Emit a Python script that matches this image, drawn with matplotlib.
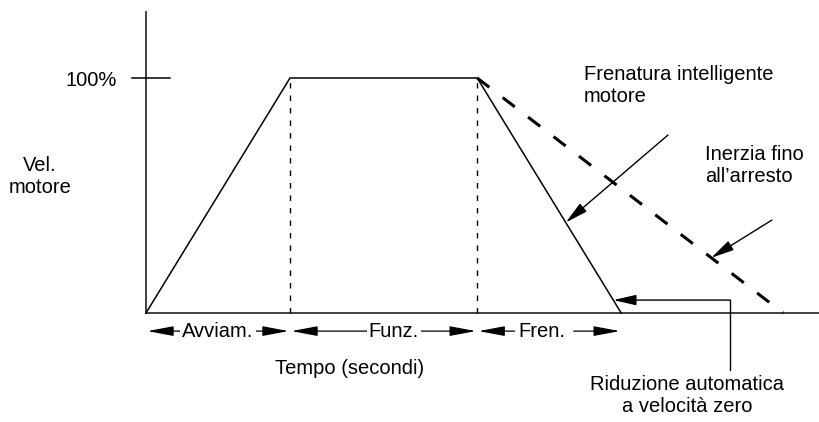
import numpy as np
import matplotlib
matplotlib.use("Agg")
import matplotlib.pyplot as plt

# speed profile (time in s, speed in %)
t_profile = [0, 2.0, 4.6, 6.6]
v_profile = [0, 100, 100, 0]
# coasting to stop (dashed)
t_coast = [4.6, 8.85]
v_coast = [100, 0]
phase_labels = ["Avviam.", "Funz.", "Fren."]
phase_edges = [0, 2.0, 4.6, 6.6]

plt.rcParams['font.family'] = ['Liberation Sans Narrow', 'Liberation Sans', 'DejaVu Sans']
FS = 14.5

fig = plt.figure(figsize=(8.19, 4.22), dpi=100)
ax = fig.add_axes([0, 0, 1, 1])
# map so that the drawing sits where it sits in the reference
ax.set_xlim(-146 / 72, (819 - 146) / 72)
ax.set_ylim(-(422 - 313) / 2.35, 313 / 2.35)
ax.axis('off')

# axes
ax.plot([0, 0], [0, (313 - 12) / 2.35], color='#333333', lw=1.3)
ax.plot([0, 9.35], [0, 0], color='#333333', lw=1.3)
ax.plot([-0.2, 0.33], [100, 100], color='black', lw=1.1)
ax.text(-0.40, 99, "100%", fontsize=FS, ha='right', va='center')
ax.text(-1.47, 58, "Vel.\nmotore", fontsize=FS, ha='center', va='center',
        linespacing=1.2)

# profile
ax.plot(t_profile, v_profile, color='black', lw=1.1)
ax.plot(t_coast, v_coast, color='black', lw=2.2, dashes=(5, 5.5))
for t in phase_edges[1:3]:
    ax.plot([t, t], [0, 100], color='black', lw=1.0, dashes=(4, 5))

# phase arrows under the axis
ya = -7.7
hd = 'head_length=1.6,head_width=0.3'
ap = dict(color='black', lw=0.9, shrinkA=0, shrinkB=0)
label_shift = [0.0, 0.14]
for i, lab in enumerate(phase_labels):
    a, b = phase_edges[i], phase_edges[i + 1]
    if i < 2:
        ax.annotate("", xy=(a + 0.02, ya), xytext=(b - 0.02, ya),
                    arrowprops=dict(arrowstyle='<|-|>,' + hd, **ap))
        ax.text((a + b) / 2 + label_shift[i], ya, lab, fontsize=FS, ha='center',
                va='center', bbox=dict(facecolor='white', edgecolor='none', pad=1.5))
    else:
        xm = a + 0.26 * (b - a)
        ax.annotate("", xy=(a + 0.02, ya), xytext=(xm, ya),
                    arrowprops=dict(arrowstyle='-|>,' + hd, **ap))
        ax.annotate("", xy=(b - 0.02, ya), xytext=(a + 0.67 * (b - a), ya),
                    arrowprops=dict(arrowstyle='-|>,' + hd, **ap))
        ax.text(xm + 0.05, ya, lab, fontsize=FS, ha='left', va='center',
                bbox=dict(facecolor='white', edgecolor='none', pad=1.0))

ax.text((350 - 146) / 72, -(368 - 313) / 2.35, "Tempo (secondi)", fontsize=FS,
        ha='center', va='center')

# callouts (tips placed on the curves)
def on_brake(v):
    return np.interp(v, v_profile[3:1:-1], t_profile[3:1:-1])

def on_coast(v):
    return np.interp(v, v_coast[::-1], t_coast[::-1])

arrow = dict(arrowstyle='-|>,head_length=1.4,head_width=0.32', color='black',
             lw=1.0, shrinkA=0, shrinkB=0)

v1 = 38.5
ax.annotate("", xy=(on_brake(v1), v1), xytext=((668 - 146) / 72, (313 - 135) / 2.35),
            arrowprops=arrow)
ax.text((584 - 146) / 72, (313 - 102) / 2.35, "Frenatura intelligente\nmotore",
        fontsize=FS, ha='left', va='baseline', linespacing=1.2)

v2 = 23.5
ax.annotate("", xy=(on_coast(v2), v2), xytext=((772 - 146) / 72, (313 - 220) / 2.35),
            arrowprops=arrow)
ax.text((705 - 146) / 72, (313 - 182) / 2.35, "Inerzia fino\nall\u2019arresto",
        fontsize=FS, ha='left', va='baseline', linespacing=1.2)

v3 = 5.5
xr = (730 - 146) / 72
ax.plot([xr, xr], [v3, -(370 - 313) / 2.35], color='black', lw=1.0)
ax.annotate("", xy=(on_brake(v3), v3), xytext=(xr, v3), arrowprops=arrow)
ax.text((687 - 146) / 72, -(395 - 313) / 2.35, "Riduzione automatica\na velocit\u00e0 zero",
        fontsize=FS, ha='center', va='center', linespacing=1.2)

fig.savefig("out.png", dpi=100)
